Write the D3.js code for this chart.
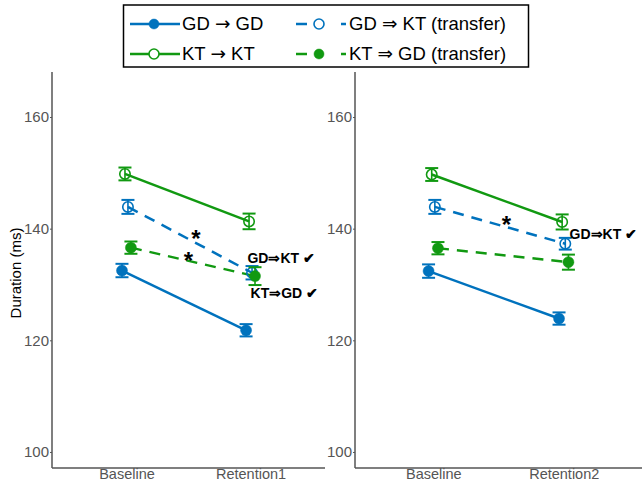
<!DOCTYPE html>
<html>
<head>
<meta charset="utf-8">
<script src="https://cdn.jsdelivr.net/npm/d3@7"></script>
<style>
  html, body { margin: 0; padding: 0; background: #fff; }
  svg { display: block; font-family: "Liberation Sans", Arial, Helvetica, sans-serif; }
</style>
</head>
<body>
<svg id="chart" width="642" height="483"></svg>
<script>
// ---- data ----
const seriesNames = ["GD \u2192 GD", "KT \u2192 KT", "GD \u21D2 KT (transfer)", "KT \u21D2 GD (transfer)"];
const categoriesLeft = ["Baseline", "Retention1"];
const categoriesRight = ["Baseline", "Retention2"];
const yTicks = [100, 120, 140, 160];

// left panel (Baseline, Retention1)
const leftGDGD = [132.5, 121.8];
const leftKTKT = [149.8, 141.3];
const leftGDKT = [143.9, 132.1];
const leftKTGD = [136.6, 131.5];
const leftErrGDGD = [1.2, 1.1];
const leftErrKTKT = [1.15, 1.4];
const leftErrGDKT = [1.25, 1.2];
const leftErrKTGD = [1.1, 1.6];

// right panel (Baseline, Retention2)
const rightGDGD = [132.4, 123.9];
const rightKTKT = [149.7, 141.2];
const rightGDKT = [143.9, 137.3];
const rightKTGD = [136.5, 134.0];
const rightErrGDGD = [1.2, 1.1];
const rightErrKTKT = [1.15, 1.35];
const rightErrGDKT = [1.25, 1.05];
const rightErrKTGD = [1.1, 1.35];

// significance stars [x (category index, 1-based), y]
const leftStars = [[1.56, 138.6], [1.5, 134.7]];
const rightStars = [[1.56, 141.2]];
// text annotations [x, y, label]
const leftNotes = [[1.975, 134.75, "GD\u21D2KT \u2714"], [2.0, 128.5, "KT\u21D2GD \u2714"]];
const rightNotes = [[2.045, 139.0, "GD\u21D2KT \u2714"]];

// ---- styles ----
const BLUE = "#0072BD";
const GREEN = "#119911";
const styles = [
  { color: BLUE,  filled: true,  dashed: false, dx: -0.036 },
  { color: GREEN, filled: false, dashed: false, dx: -0.012 },
  { color: BLUE,  filled: false, dashed: true,  dx: 0.012 },
  { color: GREEN, filled: true,  dashed: true,  dx: 0.036 }
];

const svg = d3.select("#chart");

function drawPanel(opts) {
  const { left, right, cats, values, errs, stars, notes } = opts;
  const top = 72, bottom = 468;
  const x = d3.scaleLinear().domain([0.4, 2.6]).range([left, right]);
  const y = d3.scaleLinear().domain([97.13, 168.06]).range([bottom, top]);
  const g = svg.append("g");

  // y axis
  const yAxis = d3.axisLeft(y).tickValues(yTicks).tickSize(2).tickPadding(1);
  const ya = g.append("g").attr("transform", `translate(${left},0)`).call(yAxis);
  ya.select(".domain").attr("stroke", "#555").attr("stroke-width", 1.5).attr("d", `M0,${top}V${bottom}`);
  ya.selectAll(".tick line").attr("stroke", "#555");
  ya.selectAll(".tick text").attr("fill", "#555").attr("font-size", 15)
    .attr("font-family", "'Liberation Sans', Arial, sans-serif");

  // x axis
  const xAxis = d3.axisBottom(x).tickValues([1, 2]).tickFormat((d) => cats[d - 1]).tickSize(0).tickPadding(1);
  const xa = g.append("g").attr("transform", `translate(0,${bottom})`).call(xAxis);
  xa.select(".domain").attr("stroke", "#555").attr("stroke-width", 1.5).attr("d", `M${left},0H${right}`);
  xa.selectAll(".tick text").attr("fill", "#555").attr("font-size", 14.5)
    .attr("font-family", "'Liberation Sans', Arial, sans-serif");

  // lines
  values.forEach((vals, i) => {
    const s = styles[i];
    const pts = vals.map((v, j) => [x(j + 1 + s.dx), y(v)]);
    g.append("path")
      .attr("d", d3.line()(pts))
      .attr("fill", "none")
      .attr("stroke", s.color)
      .attr("stroke-width", 2.5)
      .attr("stroke-dasharray", s.dashed ? "11,8" : null);
  });

  // error bars + markers
  values.forEach((vals, i) => {
    const s = styles[i];
    vals.forEach((v, j) => {
      const cx = x(j + 1 + s.dx);
      const e = errs[i][j];
      const y0 = y(v - e), y1 = y(v + e);
      g.append("line").attr("x1", cx).attr("x2", cx).attr("y1", y0).attr("y2", y1)
        .attr("stroke", s.color).attr("stroke-width", 1.6);
      [y0, y1].forEach((yy) => {
        g.append("line").attr("x1", cx - 6.5).attr("x2", cx + 6.5).attr("y1", yy).attr("y2", yy)
          .attr("stroke", s.color).attr("stroke-width", 2);
      });
      g.append("circle").attr("cx", cx).attr("cy", y(v))
        .attr("r", s.filled ? 5.5 : 5.2)
        .attr("fill", s.filled ? s.color : "none")
        .attr("stroke", s.color).attr("stroke-width", s.filled ? 0.5 : 1.6);
    });
  });

  // stars
  stars.forEach(([sx, sy]) => {
    g.append("text").attr("x", x(sx)).attr("y", y(sy) + 11)
      .attr("text-anchor", "middle").attr("font-size", 24).attr("font-weight", "bold")
      .attr("fill", "#000").text("*");
  });
  // notes
  notes.forEach(([nx, ny, label]) => {
    g.append("text").attr("x", x(nx)).attr("y", y(ny)).attr("dy", "0.35em")
      .attr("font-size", 14).attr("font-weight", "bold").attr("fill", "#000").text(label);
  });
}

drawPanel({
  left: 52, right: 325, cats: categoriesLeft,
  values: [leftGDGD, leftKTKT, leftGDKT, leftKTGD],
  errs: [leftErrGDGD, leftErrKTKT, leftErrGDKT, leftErrKTGD],
  stars: leftStars, notes: leftNotes
});
drawPanel({
  left: 355, right: 642, cats: categoriesRight,
  values: [rightGDGD, rightKTKT, rightGDKT, rightKTGD],
  errs: [rightErrGDGD, rightErrKTKT, rightErrGDKT, rightErrKTGD],
  stars: rightStars, notes: rightNotes
});

// y label
svg.append("text").attr("transform", "translate(21,273) rotate(-90)")
  .attr("text-anchor", "middle").attr("font-size", 15).attr("fill", "#000").text("Duration (ms)");

// legend
const lg = svg.append("g");
lg.append("rect").attr("x", 123.5).attr("y", 5).attr("width", 405).attr("height", 62)
  .attr("fill", "#fff").attr("stroke", "#000").attr("stroke-width", 1.5);
const legendPos = [[130, 24], [130, 54], [296, 24], [296, 54]];

function legendLabel(sel, name) {
  // render arrows with DejaVu Sans for a proper long arrow glyph
  const parts = name.split(/([\u2192\u21D2])/);
  parts.forEach((p) => {
    if (!p) return;
    const t = sel.append("tspan").text(p);
    if (p === "\u2192" || p === "\u21D2") t.attr("font-family", "'DejaVu Sans', sans-serif");
  });
}

seriesNames.forEach((name, i) => {
  const s = styles[i];
  const [lx, ly] = legendPos[i];
  if (s.dashed) {
    lg.append("line").attr("x1", lx).attr("x2", lx + 11).attr("y1", ly).attr("y2", ly)
      .attr("stroke", s.color).attr("stroke-width", 2.5);
    lg.append("line").attr("x1", lx + 45).attr("x2", lx + 50).attr("y1", ly).attr("y2", ly)
      .attr("stroke", s.color).attr("stroke-width", 2.5);
    lg.append("circle").attr("cx", lx + 23).attr("cy", ly).attr("r", s.filled ? 5 : 5)
      .attr("fill", s.filled ? s.color : "none").attr("stroke", s.color)
      .attr("stroke-width", s.filled ? 0.5 : 1.6);
    const t = lg.append("text").attr("x", lx + 53).attr("y", ly).attr("dy", "0.35em")
      .attr("font-size", 18.5).attr("fill", "#000");
    legendLabel(t, name);
  } else {
    lg.append("line").attr("x1", lx).attr("x2", lx + 50).attr("y1", ly).attr("y2", ly)
      .attr("stroke", s.color).attr("stroke-width", 2.5);
    lg.append("circle").attr("cx", lx + 24).attr("cy", ly).attr("r", s.filled ? 5 : 5)
      .attr("fill", s.filled ? s.color : "#fff").attr("stroke", s.color)
      .attr("stroke-width", s.filled ? 0.5 : 1.6);
    const t = lg.append("text").attr("x", lx + 52).attr("y", ly).attr("dy", "0.35em")
      .attr("font-size", 18.5).attr("fill", "#000");
    legendLabel(t, name);
  }
});
</script>
</body>
</html>
